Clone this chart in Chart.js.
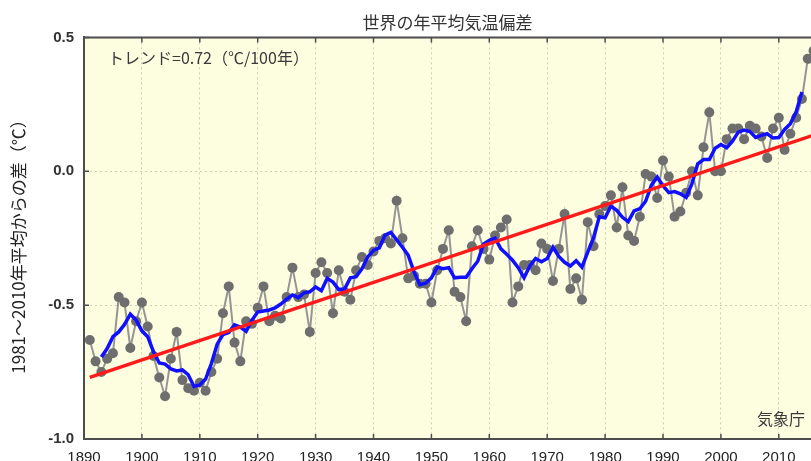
<!DOCTYPE html>
<html>
<head>
<meta charset="utf-8">
<script src="https://cdn.jsdelivr.net/npm/chart.js@4.4.1/dist/chart.umd.min.js"></script>
<style>
  html, body { margin: 0; padding: 0; background: #fff; overflow: hidden; }
  canvas { display: block; }
</style>
</head>
<body>
<canvas id="tempChart" width="811" height="461"></canvas>
<script>
(function () {
  "use strict";

  /* ── Data (JMA, anomaly from 1981–2010 mean, °C) ── */
  const years = [
    1891, 1892, 1893, 1894, 1895, 1896, 1897, 1898, 1899, 1900,
    1901, 1902, 1903, 1904, 1905, 1906, 1907, 1908, 1909, 1910,
    1911, 1912, 1913, 1914, 1915, 1916, 1917, 1918, 1919, 1920,
    1921, 1922, 1923, 1924, 1925, 1926, 1927, 1928, 1929, 1930,
    1931, 1932, 1933, 1934, 1935, 1936, 1937, 1938, 1939, 1940,
    1941, 1942, 1943, 1944, 1945, 1946, 1947, 1948, 1949, 1950,
    1951, 1952, 1953, 1954, 1955, 1956, 1957, 1958, 1959, 1960,
    1961, 1962, 1963, 1964, 1965, 1966, 1967, 1968, 1969, 1970,
    1971, 1972, 1973, 1974, 1975, 1976, 1977, 1978, 1979, 1980,
    1981, 1982, 1983, 1984, 1985, 1986, 1987, 1988, 1989, 1990,
    1991, 1992, 1993, 1994, 1995, 1996, 1997, 1998, 1999, 2000,
    2001, 2002, 2003, 2004, 2005, 2006, 2007, 2008, 2009, 2010,
    2011, 2012, 2013, 2014, 2015, 2016
  ];

  const anomaly = [
    -0.63, -0.71, -0.75, -0.70, -0.68, -0.47, -0.49, -0.66, -0.56, -0.49,
    -0.58, -0.69, -0.77, -0.84, -0.70, -0.60, -0.78, -0.81, -0.82, -0.79,
    -0.82, -0.75, -0.70, -0.53, -0.43, -0.64, -0.71, -0.56, -0.57, -0.51,
    -0.43, -0.56, -0.54, -0.55, -0.47, -0.36, -0.47, -0.46, -0.60, -0.38,
    -0.34, -0.38, -0.53, -0.37, -0.45, -0.48, -0.37, -0.32, -0.35, -0.30,
    -0.26, -0.25, -0.27, -0.11, -0.25, -0.40, -0.39, -0.42, -0.42, -0.49,
    -0.37, -0.29, -0.22, -0.45, -0.47, -0.56, -0.28, -0.22, -0.29, -0.33,
    -0.24, -0.21, -0.18, -0.49, -0.43, -0.35, -0.35, -0.37, -0.27, -0.29,
    -0.41, -0.29, -0.16, -0.44, -0.40, -0.48, -0.19, -0.28, -0.16, -0.13,
    -0.09, -0.21, -0.06, -0.24, -0.26, -0.17, -0.01, -0.02, -0.10,  0.04,
    -0.02, -0.17, -0.15, -0.08,  0.00, -0.09,  0.09,  0.22,  0.00,  0.00,
     0.12,  0.16,  0.16,  0.12,  0.17,  0.16,  0.13,  0.05,  0.16,  0.20,
     0.08,  0.14,  0.20,  0.27,  0.42,  0.45
  ];

  // 5-year running mean (blue), same years as above
  const runMean = [
      null,   null, -0.694, -0.662, -0.618, -0.600, -0.572, -0.534, -0.556, -0.596,
    -0.618, -0.674, -0.716, -0.720, -0.738, -0.746, -0.742, -0.760, -0.804, -0.798,
    -0.776, -0.718, -0.646, -0.610, -0.602, -0.574, -0.582, -0.598, -0.556, -0.526,
    -0.522, -0.518, -0.510, -0.496, -0.478, -0.462, -0.472, -0.454, -0.450, -0.432,
    -0.446, -0.400, -0.414, -0.442, -0.440, -0.398, -0.394, -0.364, -0.320, -0.296,
    -0.286, -0.238, -0.228, -0.256, -0.284, -0.314, -0.376, -0.424, -0.418, -0.398,
    -0.358, -0.364, -0.360, -0.398, -0.396, -0.396, -0.364, -0.336, -0.272, -0.258,
    -0.250, -0.290, -0.310, -0.332, -0.360, -0.398, -0.354, -0.326, -0.338, -0.326,
    -0.284, -0.318, -0.340, -0.354, -0.334, -0.358, -0.302, -0.248, -0.170, -0.174,
    -0.130, -0.146, -0.172, -0.188, -0.148, -0.140, -0.112, -0.052, -0.022, -0.054,
    -0.080, -0.076, -0.084, -0.098, -0.046,  0.028,  0.044,  0.044,  0.086,  0.100,
     0.088,  0.112,  0.146,  0.154,  0.148,  0.126,  0.134,  0.140,  0.124,  0.126,
     0.156,  0.178,  0.222,  0.296,   null,   null
  ];

  // linear trend, 0.72 °C / 100 years
  const trendYears = [1891, 2016];
  const trendValues = [-0.77, 0.135];

  const xTickValues = [1890, 1900, 1910, 1920, 1930, 1940, 1950, 1960, 1970, 1980, 1990, 2000, 2010];
  const yTickValues = [-1.0, -0.5, 0.0, 0.5];

  /* ── Helpers ── */
  const pts = (xs, ys) => xs.map((x, i) => ({ x: x, y: ys[i] }));
  const JP = '"Noto Sans CJK JP", "Noto Sans", sans-serif';
  const NUM = '"Liberation Sans", Arial, sans-serif';
  const FRAME = '#4d4d4d';

  /* ── Plot background, top border, inner ticks, notes ── */
  const framePlugin = {
    id: 'frame',
    beforeDraw(chart) {
      const { ctx, chartArea: a } = chart;
      ctx.save();
      ctx.fillStyle = '#fdfde0';
      ctx.fillRect(a.left, a.top, a.right - a.left, a.bottom - a.top);
      ctx.restore();
    },
    beforeDatasetsDraw(chart) {
      const { ctx, chartArea: a, scales: { x, y } } = chart;
      ctx.save();
      ctx.strokeStyle = FRAME;
      ctx.lineWidth = 1.5;
      ctx.beginPath();
      x.ticks.forEach(t => {
        const px = x.getPixelForValue(t.value);
        ctx.moveTo(px, a.top); ctx.lineTo(px, a.top + 5);
        ctx.moveTo(px, a.bottom); ctx.lineTo(px, a.bottom - 5);
      });
      y.ticks.forEach(t => {
        const py = y.getPixelForValue(t.value);
        ctx.moveTo(a.left, py); ctx.lineTo(a.left + 5, py);
      });
      ctx.stroke();
      ctx.lineWidth = 2;
      ctx.beginPath();
      ctx.moveTo(a.left, a.top); ctx.lineTo(a.right, a.top);
      ctx.stroke();

      ctx.fillStyle = '#3a3a3a';
      ctx.font = '16px ' + JP;
      ctx.textBaseline = 'middle';
      ctx.textAlign = 'left';
      ctx.fillText('トレンド=0.72（℃/100年）', a.left + 24, a.top + 21);
      ctx.textAlign = 'right';
      ctx.fillText('気象庁', a.right - 6, a.bottom - 20);
      ctx.restore();
    }
  };

  /* ── Chart ── */
  new Chart(document.getElementById('tempChart'), {
    type: 'line',
    data: {
      datasets: [
        { label: 'トレンド', data: pts(trendYears, trendValues), borderColor: '#ff1a1a', borderWidth: 3.5, pointRadius: 0, order: 1 },
        { label: '5年移動平均', data: pts(years, runMean), borderColor: '#1010ff', borderWidth: 3.5, pointRadius: 0, spanGaps: false, order: 2 },
        { label: '年平均', data: pts(years, anomaly), borderColor: '#959595', borderWidth: 2, pointRadius: 5, pointBackgroundColor: '#6e6e6e', pointBorderWidth: 0, order: 3,
          clip: { left: 6, top: 6, right: 0, bottom: 6 } }
      ]
    },
    options: {
      responsive: false, animation: false,
      layout: { padding: 0, autoPadding: false },
      plugins: {
        legend: { display: false },
        tooltip: { enabled: false },
        title: {
          display: true, text: '世界の年平均気温偏差', fullSize: false,
          color: '#333', font: { family: JP, size: 17, weight: 'normal' },
          padding: { top: 12, bottom: 5 }
        }
      },
      scales: {
        x: {
          type: 'linear', min: 1890, max: 2015.56,
          afterFit: s => { s.height = 22; s.paddingRight = 0; },
          afterBuildTicks: s => { s.ticks = xTickValues.map(v => ({ value: v })); },
          ticks: { color: '#222', font: { family: NUM, size: 15 }, padding: 10, maxRotation: 0, callback: v => String(v) },
          grid: { color: 'rgba(150,150,120,0.45)', lineWidth: 1, drawTicks: false },
          border: { color: FRAME, width: 2, dash: [2, 3] }
        },
        y: {
          min: -1.0, max: 0.5,
          afterFit: s => { s.width = 84; },
          afterBuildTicks: s => { s.ticks = yTickValues.map(v => ({ value: v })); },
          ticks: { color: '#333', font: { family: NUM, size: 15, weight: 'bold' }, padding: 10, callback: v => v.toFixed(1) },
          grid: { color: 'rgba(150,150,120,0.45)', lineWidth: 1, drawTicks: false },
          border: { color: FRAME, width: 2, dash: [2, 3] },
          title: {
            display: true, text: '1981〜2010年平均からの差（℃）　', color: '#222',
            font: { family: JP, size: 17, weight: 'normal' }, padding: { top: 8, bottom: 0 }
          }
        }
      }
    },
    plugins: [framePlugin]
  });

})();
</script>
</body>
</html>
